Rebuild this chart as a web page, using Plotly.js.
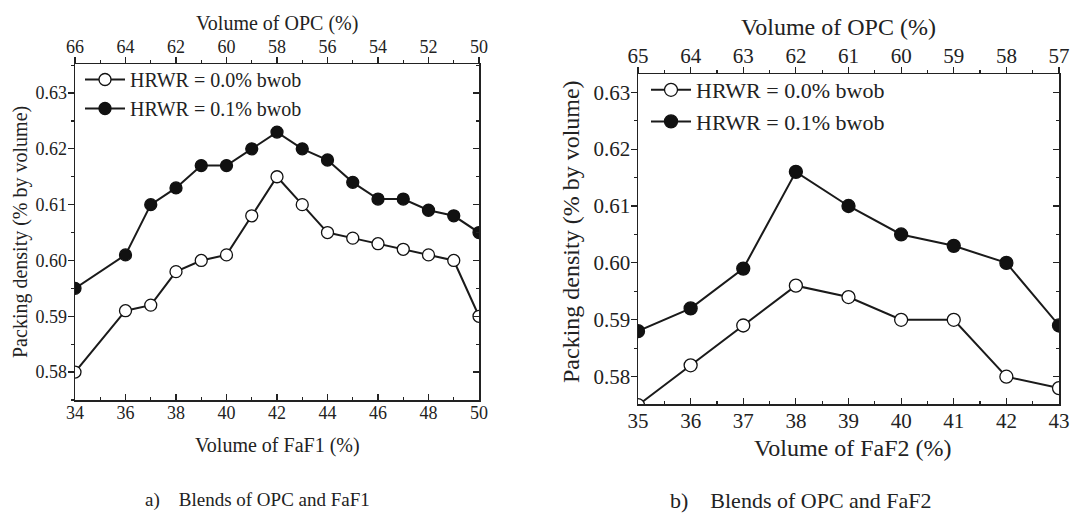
<!DOCTYPE html>
<html>
<head>
<meta charset="utf-8">
<script src="https://cdn.plot.ly/plotly-3.0.1.min.js"></script>
<style>html,body{margin:0;padding:0;background:#fff}#chart{width:1072px;height:522px}</style>
</head>
<body>
<div id="chart"></div>
<script>
// Panel a) Blends of OPC and FaF1
const faf1 = [34, 36, 37, 38, 39, 40, 41, 42, 43, 44, 45, 46, 47, 48, 49, 50];
const a_hrwr00 = [0.580, 0.591, 0.592, 0.598, 0.600, 0.601, 0.608, 0.615, 0.610, 0.605, 0.604, 0.603, 0.602, 0.601, 0.600, 0.590];
const a_hrwr01 = [0.595, 0.601, 0.610, 0.613, 0.617, 0.617, 0.620, 0.623, 0.620, 0.618, 0.614, 0.611, 0.611, 0.609, 0.608, 0.605];
// Panel b) Blends of OPC and FaF2
const faf2 = [35, 36, 37, 38, 39, 40, 41, 42, 43];
const b_hrwr00 = [0.575, 0.582, 0.589, 0.596, 0.594, 0.590, 0.590, 0.580, 0.578];
const b_hrwr01 = [0.588, 0.592, 0.599, 0.616, 0.610, 0.605, 0.603, 0.600, 0.589];
// Top-axis (OPC volume) tick values
const opcTicksA = [66, 64, 62, 60, 58, 56, 54, 52, 50];
const opcTicksB = [65, 64, 63, 62, 61, 60, 59, 58, 57];
const seriesNames = ["HRWR = 0.0% bwob", "HRWR = 0.1% bwob"];
const captions = ["a)&#160;&#160;&#160;&#160;Blends of OPC and FaF1", "b)&#160;&#160;&#160;&#160;Blends of OPC and FaF2"];
const opcTitle = "Volume of OPC (%)";
const yTitle = "Packing density (% by volume)";

const FONT = "Liberation Serif, Times New Roman, serif";
function tr(x, y, name, filled, xa, ya, leg, msize) {
  return {
    x: x, y: y, name: name, type: "scatter", mode: "lines+markers",
    xaxis: xa, yaxis: ya, legend: leg, cliponaxis: true,
    line: {color: "#1a1a1a", width: 2},
    marker: {size: msize, color: filled ? "#111" : "#fff", line: {color: "#111", width: 1.3}}
  };
}
function helper(x, xa, ya) {
  // invisible trace so the top (OPC) axis and the right frame axis are registered and drawn
  return {x: x, y: x.map(() => null), type: "scatter", mode: "none", xaxis: xa, yaxis: ya,
    showlegend: false, hoverinfo: "skip"};
}
const data = [
  tr(faf1, a_hrwr00, seriesNames[0], false, "x", "y", "legend", 12),
  tr(faf1, a_hrwr01, seriesNames[1], true, "x", "y", "legend", 12),
  tr(faf2, b_hrwr00, seriesNames[0], false, "x3", "y2", "legend2", 13),
  tr(faf2, b_hrwr01, seriesNames[1], true, "x3", "y2", "legend2", 13),
  helper(opcTicksA, "x2", "y3"),
  helper(opcTicksB, "x4", "y4")
];

function ax(extra, fs) {
  return Object.assign({
    showline: true, linecolor: "#222", linewidth: 1.5, mirror: false,
    ticks: "outside", ticklen: 6, tickwidth: 1.2, tickcolor: "#222",
    showgrid: false, zeroline: false,
    tickfont: {family: FONT, size: fs, color: "#222"}
  }, extra);
}
const minorX = (d, dir) => ({ticks: dir, dtick: d, ticklen: 3, tickcolor: "#222"});

const L = [75/1072, 479/1072];
const LY = [(522-400)/522, (522-64)/522];
const R = [638/1072, 1059/1072];
const RY = [(522-404)/522, (522-74)/522];
const rangeYA = [0.575, 0.6352];
const rangeYB = [0.5752, 0.6332];

function ann(text, x, y, size, angle) {
  return {text: text, xref: "paper", yref: "paper", x: x/1072, y: (522-y)/522,
    xanchor: "center", yanchor: "middle", showarrow: false, textangle: angle || 0,
    font: {family: FONT, size: size, color: "#222"}};
}

const layout = {
  width: 1072, height: 522,
  margin: {l: 0, r: 0, t: 0, b: 0},
  paper_bgcolor: "#fff", plot_bgcolor: "#fff",
  font: {family: FONT, color: "#222"},
  // panel a
  xaxis: ax({domain: L, anchor: "y", range: [34, 50], dtick: 2, tick0: 34, ticks: "inside", ticklabelstandoff: -4,
    minor: minorX(1, "inside")}, 18),
  xaxis2: ax({overlaying: "x", side: "top", anchor: "y", range: [66, 50], dtick: 2, tick0: 50, ticklabelstandoff: -4,
    minor: minorX(1, "outside")}, 18),
  yaxis: ax({domain: LY, anchor: "x", range: rangeYA, dtick: 0.01, tick0: 0.58, tickformat: ".2f", ticklabelstandoff: -3,
    minor: minorX(0.005, "outside")}, 18),
  yaxis3: ax({overlaying: "y", side: "right", anchor: "x", range: rangeYA, dtick: 0.01, tick0: 0.58,
    ticks: "inside", showticklabels: false, minor: minorX(0.005, "inside")}, 18),
  // panel b
  xaxis3: ax({domain: R, anchor: "y2", range: [35, 43], dtick: 1, ticks: "inside", ticklabelstandoff: -3,
    minor: minorX(0.5, "inside")}, 21),
  xaxis4: ax({overlaying: "x3", side: "top", anchor: "y2", range: [65, 57], dtick: 1, ticklabelstandoff: -5,
    minor: minorX(0.5, "outside")}, 21),
  yaxis2: ax({domain: RY, anchor: "x3", range: rangeYB, dtick: 0.01, tick0: 0.58, tickformat: ".2f", ticklabelstandoff: -4,
    minor: minorX(0.005, "outside")}, 21),
  yaxis4: ax({overlaying: "y2", side: "right", anchor: "x3", range: rangeYB, dtick: 0.01, tick0: 0.58,
    ticks: "inside", showticklabels: false, minor: minorX(0.005, "inside")}, 21),
  legend: {x: 80/1072, y: (522-60)/522, xanchor: "left", yanchor: "top", bgcolor: "rgba(0,0,0,0)",
    font: {family: FONT, size: 20, color: "#222"}, tracegroupgap: 0, itemwidth: 40},
  legend2: {x: 646/1072, y: (522-69)/522, xanchor: "left", yanchor: "top", bgcolor: "rgba(0,0,0,0)",
    font: {family: FONT, size: 22, color: "#222"}, tracegroupgap: 0, itemwidth: 40},
  showlegend: true,
  annotations: [
    ann(opcTitle, 277, 23, 20),
    ann("Volume of FaF1 (%)", 277, 445, 20),
    ann(yTitle, 20, 232, 20, -90),
    ann(opcTitle, 838, 27, 24),
    ann("Volume of FaF2 (%)", 853, 448, 24),
    ann(yTitle, 571, 232, 24, -90),
    ann(captions[0], 257, 500, 19),
    ann(captions[1], 801, 500, 22)
  ]
};

Plotly.newPlot("chart", data, layout, {staticPlot: true, displayModeBar: false});
</script>
</body>
</html>
